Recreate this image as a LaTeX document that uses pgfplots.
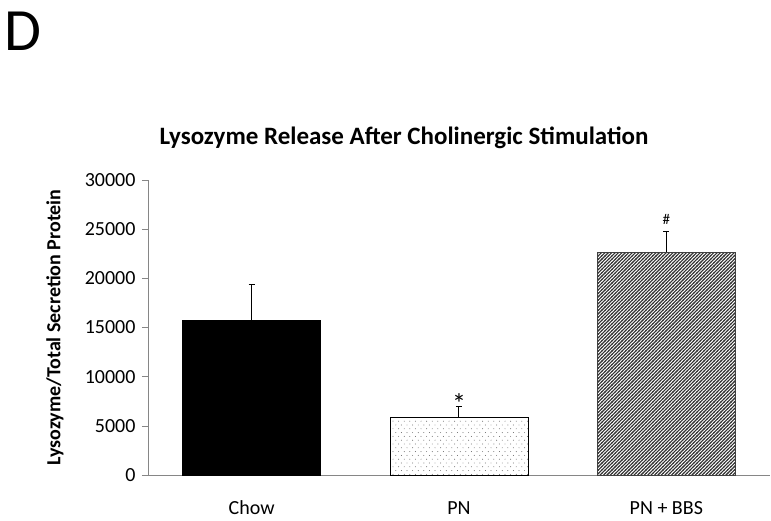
\documentclass[border=0pt]{standalone}
\usepackage{fontspec}
\setmainfont{Carlito}
\usepackage{pgfplots}
\pgfplotsset{compat=1.18}
\usetikzlibrary{patterns}
\pgfdeclarepatternformonly{sparsedots}{\pgfqpoint{-1pt}{-1pt}}{\pgfqpoint{6pt}{8pt}}{\pgfqpoint{5.6pt}{7.6pt}}{%
  \pgfpathcircle{\pgfqpoint{1pt}{1pt}}{0.45pt}
  \pgfpathcircle{\pgfqpoint{3.8pt}{4.8pt}}{0.45pt}
  \pgfusepath{fill}}
\pgfdeclarepatternformonly{denselines}{\pgfqpoint{-1pt}{-1pt}}{\pgfqpoint{4.5pt}{4.5pt}}{\pgfqpoint{3.4pt}{3.4pt}}{%
  \pgfsetlinewidth{1.1pt}
  \pgfpathmoveto{\pgfqpoint{-0.5pt}{-0.5pt}}
  \pgfpathlineto{\pgfqpoint{3.9pt}{3.9pt}}
  \pgfusepath{stroke}}
\definecolor{axgray}{RGB}{134,134,134}
\begin{document}
\begin{tikzpicture}
\path[use as bounding box] (-148pt,-46pt) rectangle (623pt,475pt);
\node[anchor=north west,inner sep=0pt,font=\fontsize{60}{60}\selectfont] at (-144pt,463pt) {D};
\begin{axis}[
  at={(0pt,0pt)}, anchor=south west,
  scale only axis, width=622pt, height=295pt,
  xmin=-0.5, xmax=2.5, ymin=0, ymax=30000,
  axis x line*=bottom, axis y line*=left,
  axis line style={axgray, line width=0.6pt},
  ytick={0,5000,...,30000},
  /pgf/number format/assume math mode=true,
  scaled y ticks=false,
  yticklabel style={/pgf/number format/fixed, /pgf/number format/1000 sep={}, font=\fontsize{20}{20}\selectfont, xshift=-3pt},
  y tick style={axgray, line width=0.6pt},
  major tick length=6pt,
  tick align=outside,
  xtick={0,1,2},
  xticklabels={Chow, PN, PN + BBS},
  x tick style={draw=none},
  xticklabel style={font=\fontsize{20}{20}\selectfont, text height=13pt, text depth=4pt, yshift=-17pt},
  extra x ticks={-0.5,0.5,1.5,2.5},
  extra x tick labels={},
  extra x tick style={x tick style={axgray, line width=0.6pt}, major tick length=6pt},
  ylabel={\bfseries Lysozyme/Total Secretion Protein},
  ylabel style={at={(axis description cs:-0.1495,0.5)}, anchor=center, font=\fontsize{20}{20}\selectfont},
  title={\bfseries Lysozyme Release After Cholinergic Stimulation},
  title style={at={(axis description cs:0.4116,1.122)}, anchor=center, font=\fontsize{25}{25}\selectfont},
  ybar, bar width=0.665,
  bar shift=0pt,
  clip=false,
]
\addplot[draw=black, fill=black, line width=0.6pt,
  error bars/.cd, y dir=plus, y explicit,
  error bar style={black, line width=1pt},
  error mark options={rotate=90, mark size=3pt, line width=1pt}]
  coordinates {(0,15700) +- (0,3700)};
\addplot[draw=black, line width=0.8pt, pattern=sparsedots, pattern color=black!70,
  error bars/.cd, y dir=plus, y explicit,
  error bar style={black, line width=1pt},
  error mark options={rotate=90, mark size=3pt, line width=1pt}]
  coordinates {(1,5850) +- (0,1100)};
\addplot[draw=black!75, line width=0.8pt, pattern=denselines, pattern color=black!80,
  error bars/.cd, y dir=plus, y explicit,
  error bar style={black, line width=1pt},
  error mark options={rotate=90, mark size=3pt, line width=1pt}]
  coordinates {(2,22650) +- (0,2150)};
\node[font=\fontsize{28}{28}\selectfont] at (axis cs:1,7300) {*};
\node[font=\fontsize{15}{15}\selectfont] at (axis cs:2,26000) {\#};
\end{axis}
\end{tikzpicture}
\end{document}
